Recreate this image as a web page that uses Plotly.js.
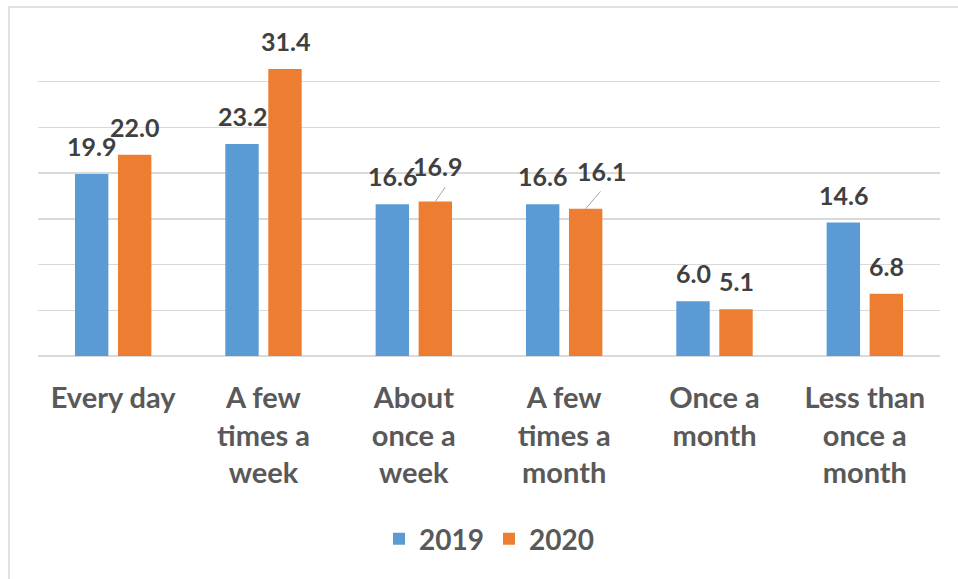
<!DOCTYPE html>
<html>
<head>
<meta charset="utf-8">
<script src="https://cdn.plot.ly/plotly-3.0.1.min.js"></script>
<style>
  html, body { margin: 0; padding: 0; background: #ffffff; }
  #chart { width: 958px; height: 579px; }
</style>
</head>
<body>
<div id="chart"></div>
<script>
// ---- data ----
const categories = [
  "Every day",
  "A few<br>times a<br>week",
  "About<br>once a<br>week",
  "A few<br>times a<br>month",
  "Once a<br>month",
  "Less than<br>once a<br>month"
];
const seriesNames = ["2019", "2020"];
const values2019 = [19.9, 23.2, 16.6, 16.6, 6.0, 14.6];
const values2020 = [22.0, 31.4, 16.9, 16.1, 5.1, 6.8];

// ---- styles ----
const colors = ["#5B9BD5", "#ED7D31"];
const FONT = "Lato, 'Open Sans', sans-serif";
const groupOffset = [-21.5, 21.5];   // px offset of each series' bar from category centre
const baseLabelShift = 11;           // px above bar top
// label nudges for crowded labels (style, per series/category)
const nudgeX = [[0,0,0,0,0,0],[0,0,2,16,0,0]];
const nudgeY = [[0,0,0,0,0,0],[0,0,7.5,10,0,0]];
const leader = [[null,null,null,null,null,null],[null,null,[11,-16],[16,-19],null,null]];

const allValues = [values2019, values2020];

const traces = allValues.map((vals, s) => ({
  type: "bar",
  name: seriesNames[s],
  x: categories,
  y: vals,
  marker: { color: colors[s] },
  hoverinfo: "x+y"
}));

const annotations = [];
allValues.forEach((vals, s) => {
  vals.forEach((v, j) => {
    annotations.push({
      x: categories[j], y: v, xref: "x", yref: "y",
      text: v.toFixed(1),
      showarrow: false,
      xanchor: "center", yanchor: "bottom",
      xshift: groupOffset[s] + nudgeX[s][j],
      yshift: baseLabelShift + nudgeY[s][j],
      font: { family: FONT, size: 25, color: "#404040", weight: "bold" }
    });
    const l = leader[s][j];
    if (l) {
      annotations.push({
        x: categories[j], y: v, xref: "x", yref: "y",
        text: "", showarrow: true, arrowhead: 0, arrowwidth: 1,
        arrowcolor: "#A6A6A6", ax: l[0], ay: l[1],
        xshift: groupOffset[s], standoff: 0
      });
    }
  });
});

const layout = {
  width: 958, height: 579,
  margin: { l: 38, r: 18, t: 36, b: 223 },
  paper_bgcolor: "#ffffff", plot_bgcolor: "#ffffff",
  barmode: "group",
  bargap: 0.428,
  bargroupgap: 0.223,
  showlegend: true,
  legend: {
    orientation: "h", x: 0.5, xanchor: "center", y: -0.572, yanchor: "middle",
    font: { family: FONT, size: 28, color: "#595959", weight: "bold" },
    itemwidth: 30
  },
  xaxis: {
    type: "category",
    showgrid: false, showline: false, zeroline: false,
    ticks: "", ticklabelstandoff: 22,
    tickfont: { family: FONT, size: 29, color: "#595959", weight: "bold" },
    fixedrange: true
  },
  yaxis: {
    range: [0, 35], dtick: 5,
    showgrid: true, gridcolor: "#D9D9D9", gridwidth: 1.5,
    zeroline: true, zerolinecolor: "#D9D9D9", zerolinewidth: 1.5,
    showticklabels: false, ticks: "", showline: false,
    fixedrange: true
  },
  annotations: annotations,
  shapes: [{
    type: "rect", xref: "paper", yref: "paper",
    x0: (9 - 38) / 902, x1: (975 - 38) / 902,
    y0: (356 - 595) / 320, y1: (356 - 7) / 320,
    line: { color: "#D9D9D9", width: 1.5 }, fillcolor: "rgba(0,0,0,0)", layer: "below"
  }]
};

Plotly.newPlot("chart", traces, layout, { displayModeBar: false, staticPlot: true });
</script>
</body>
</html>
